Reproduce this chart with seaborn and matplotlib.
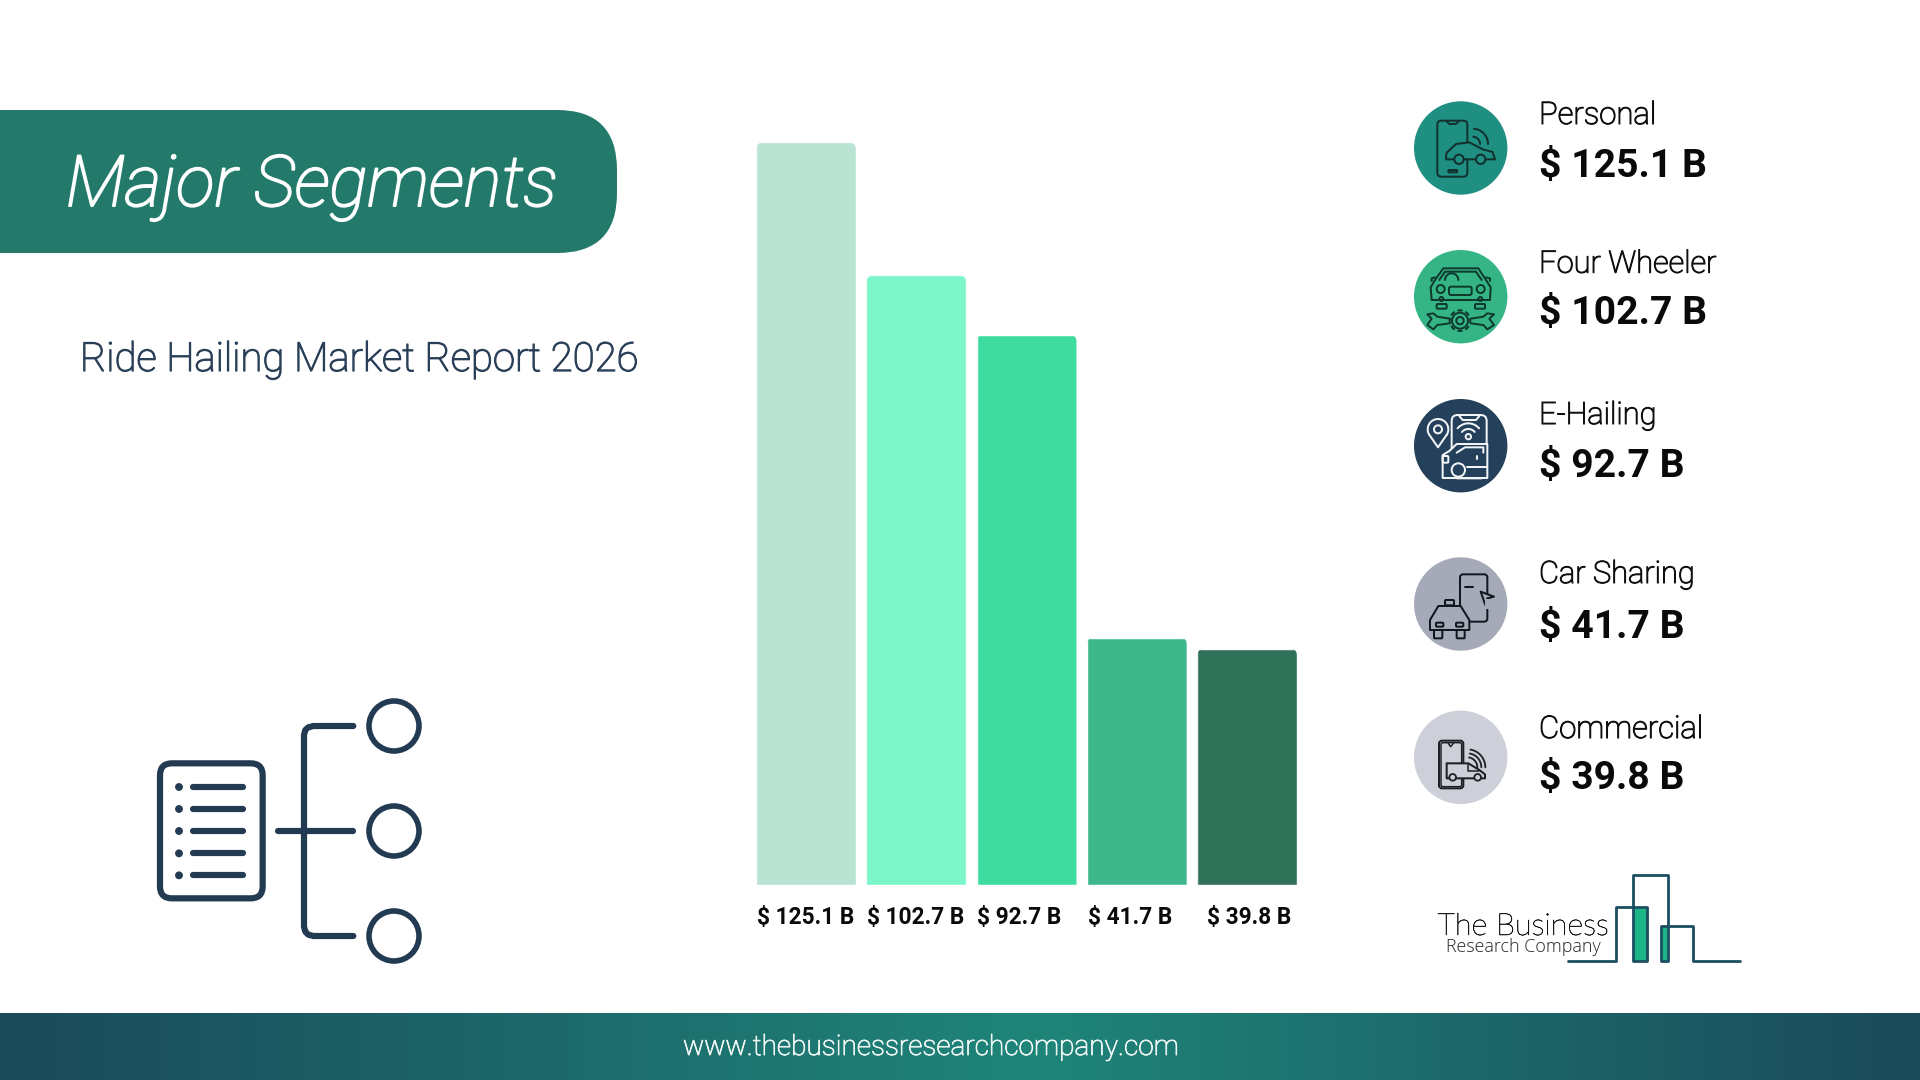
import numpy as np
import matplotlib
matplotlib.use("Agg")
import matplotlib.pyplot as plt
import matplotlib.patheffects as pe
import seaborn as sns
from matplotlib.colors import LinearSegmentedColormap
from matplotlib.patches import Circle, FancyBboxPatch, Polygon, Rectangle
from matplotlib.transforms import IdentityTransform

# Data
segments = ["Personal", "Four Wheeler", "E-Hailing", "Car Sharing", "Commercial"]
values = [125.1, 102.7, 92.7, 41.7, 39.8]
bar_colors = ["#b9e3d3", "#7bf6c9", "#3ddba0", "#3eb78c", "#2f7259"]
circle_colors = ["#1f8f82", "#35b586", "#24405a", "#a5a9b8", "#cdcfd9"]

NAVY = "#223b53"

sns.set_theme(style="white")
plt.rcParams["font.family"] = ["Roboto", "DejaVu Sans"]

W, H = 1920, 1080
fig = plt.figure(figsize=(W / 100, H / 100), dpi=100, facecolor="white")

# background axes in pixels, y pointing down
bg = fig.add_axes([0, 0, 1, 1], zorder=0)
bg.axis("off")


def px(v):
    return v * 0.72


def fit(t, width):
    # scale the font so the text is as wide as in the reference
    r = fig.canvas.get_renderer()
    t.set_fontsize(t.get_fontsize() * width / t.get_window_extent(r).width)
    return t


def thick(t, lw):
    # light weight is narrow like the reference, the stroke gives back its weight
    t.set_path_effects([pe.withStroke(linewidth=lw, foreground=t.get_color())])
    return t


# footer gradient
cmap = LinearSegmentedColormap.from_list("foot", ["#1b4a5a", "#1f8579", "#1b4a5a"])
ramp = np.linspace(0, 1, 960)[None, :]
ramp = np.where(ramp < 0.54, ramp / 0.54 * 0.5, 0.5 + (ramp - 0.54) / 0.46 * 0.5)
bg.imshow(ramp, extent=[0, W, 1080, 1013], aspect="auto", cmap=cmap, vmin=0, vmax=1, zorder=1)
bg.set_xlim(0, W)
bg.set_ylim(H, 0)
thick(fit(bg.text(683, 1055, "www.thebusinessresearchcompany.com", color="#eef6f4", weight="light",
                  va="baseline", fontsize=19, zorder=5), 496), 0.6)

# header
bg.add_patch(FancyBboxPatch((-80, 110), 697, 143, boxstyle="round,pad=0,rounding_size=60",
                            fc="#237a6b", ec="none", zorder=1))
thick(fit(bg.text(66, 206, "Major Segments", color="white", style="italic", weight="light",
                  fontsize=50, zorder=5), 492), 1.4)
thick(fit(bg.text(80, 371, "Ride Hailing Market Report 2026", color="#2a3f58", weight="light",
                  fontsize=28, zorder=5), 558), 0.9)


# icon helpers: points are given in 3x crop coordinates from an origin
def poly(org, pts, color, lw=2.0, closed=False, fill=None):
    xy = [(org[0] + x / 3, org[1] + y / 3) for x, y in pts]
    bg.add_patch(Polygon(xy, closed=closed, fill=fill is not None, fc=fill, ec=color, lw=px(lw),
                         joinstyle="round", capstyle="round", zorder=4))


def circ(org, x, y, r, color, lw=2.0, fill=None):
    bg.add_patch(Circle((org[0] + x / 3, org[1] + y / 3), r / 3, fill=fill is not None, fc=fill,
                        ec=color, lw=px(lw), zorder=4))


def rrect(org, x0, y0, x1, y1, r, color, lw=2.0, fill=None):
    bg.add_patch(FancyBboxPatch((org[0] + x0 / 3, org[1] + y0 / 3), (x1 - x0) / 3, (y1 - y0) / 3,
                                boxstyle=f"round,pad=0,rounding_size={r / 3}", fill=fill is not None,
                                fc=fill, ec=color, lw=px(lw), zorder=4))


def arc(org, x, y, r, a0, a1, color, lw=2.0):
    a = np.radians(np.linspace(a0, a1, 24))
    poly(org, np.c_[x + r * np.cos(a), y - r * np.sin(a)], color, lw)


# document + tree icon on the left
rrect((130, 680), 90, 250, 398, 655, 36, NAVY, 6.2)
for y in [321, 387, 453, 520, 586]:
    circ((130, 680), 147, y, 8, NAVY, 2.5, fill=NAVY)
    poly((130, 680), [(190, y), (340, y)], NAVY, 6.2)
poly((130, 680), [(445, 453), (670, 453)], NAVY, 6.2)
poly((130, 680), [(670, 138), (550, 138), (535, 142), (526, 150), (522, 165), (522, 740),
                  (526, 755), (535, 764), (550, 768), (670, 768)], NAVY, 6.2)
for y in [138, 453, 768]:
    circ((130, 680), 792, y, 75, NAVY, 5.6)

# circles on the right
rows_y = [148, 296.7, 445.7, 604, 757.3]
for y, c in zip(rows_y, circle_colors):
    bg.add_patch(Circle((1460.7, y), 46.7, fc=c, ec="none", zorder=2))

# Personal icon
o = (1380, 80)
ink = "#12302e"
rrect(o, 172, 122, 262, 290, 12, ink)
poly(o, [(200, 124), (208, 132), (228, 132), (236, 124)], ink)
rrect(o, 205, 270, 232, 277, 3, ink)
poly(o, [(198, 232), (200, 218), (228, 192), (268, 187), (308, 208), (338, 216), (345, 238),
         (198, 238)], ink, closed=True, fill=circle_colors[0])
circ(o, 237, 238, 14, ink, fill=circle_colors[0])
circ(o, 302, 238, 14, ink, fill=circle_colors[0])
arc(o, 278, 192, 22, 0, 85, ink)
arc(o, 278, 192, 46, 0, 85, ink)

# Four Wheeler icon
ink = "#0f3a2e"
poly(o, [(155, 660), (152, 622), (165, 600), (190, 565), (295, 565), (318, 600), (332, 622),
         (330, 660)], ink, closed=True)
poly(o, [(178, 600), (195, 575), (288, 575), (305, 600), (178, 600)], ink)
arc(o, 215, 600, 20, 0, 180, ink)
poly(o, [(165, 592), (155, 595), (155, 603)], ink)
poly(o, [(318, 592), (330, 595), (330, 603)], ink)
circ(o, 182, 627, 12, ink)
circ(o, 302, 627, 12, ink)
rrect(o, 207, 620, 275, 645, 6, ink)
circ(o, 184, 657, 6, ink)
circ(o, 301, 657, 6, ink)
poly(o, [(215, 660), (270, 660)], ink)
rrect(o, 170, 672, 200, 686, 3, ink)
rrect(o, 285, 672, 315, 686, 3, ink)
for a in range(0, 360, 45):
    arc(o, 240, 722, 31, a - 10, a + 10, ink)
circ(o, 240, 722, 24, ink)
circ(o, 240, 722, 11, ink)
poly(o, [(210, 716), (172, 710), (160, 700), (142, 703), (155, 716), (142, 735), (160, 748),
         (172, 735), (210, 730)], ink)
poly(o, [(272, 716), (310, 710), (322, 700), (342, 703), (328, 716), (342, 735), (322, 748),
         (310, 735), (272, 730)], ink)

# E-Hailing icon
e = (1400, 390)
ink = "#f2f5f6"
fill = circle_colors[2]
rrect(e, 155, 75, 260, 265, 18, ink)
poly(e, [(178, 78), (188, 90), (228, 90), (238, 78)], ink)
arc(e, 205, 142, 25, 40, 140, ink)
arc(e, 205, 142, 42, 40, 140, ink)
circ(e, 205, 140, 8, ink)
arc(e, 114, 118, 31, -35, 215, ink)
poly(e, [(89, 136), (114, 172), (139, 136)], ink)
circ(e, 114, 118, 12, ink)
poly(e, [(128, 264), (128, 195), (148, 183), (170, 162), (262, 162), (262, 264)], ink, closed=True, fill=fill)
poly(e, [(170, 188), (195, 172), (250, 172), (250, 188), (170, 188)], ink)
poly(e, [(200, 230), (262, 230)], ink)
poly(e, [(232, 198), (232, 208)], ink)
rrect(e, 128, 198, 145, 218, 3, ink)
circ(e, 175, 240, 20, ink, fill=fill)

# Car Sharing icon
o2 = (1380, 530)
ink = "#10181f"
fill = circle_colors[3]
rrect(o2, 240, 133, 322, 275, 9, ink)
poly(o2, [(255, 172), (278, 172)], ink)
poly(o2, [(302, 185), (342, 200), (322, 205), (316, 225), (302, 185)], ink, closed=True, fill=fill)
bg.add_patch(Rectangle((1380 + 315 / 3, 530 + 206 / 3), 16 / 3, 32 / 3, fc=fill, ec="none", zorder=4))
rrect(o2, 195, 210, 222, 226, 3, ink, fill=fill)
poly(o2, [(150, 300), (150, 270), (175, 228), (242, 228), (268, 270), (268, 300)], ink, closed=True, fill=fill)
rrect(o2, 168, 278, 190, 290, 3, ink)
rrect(o2, 228, 278, 250, 290, 3, ink)
rrect(o2, 162, 300, 187, 325, 3, ink, fill=fill)
rrect(o2, 230, 300, 254, 325, 3, ink, fill=fill)

# Commercial icon
ink = "#1a2026"
fill = circle_colors[4]
rrect(o2, 177, 632, 250, 775, 9, ink)
rrect(o2, 183, 638, 245, 770, 6, ink, 1.5)
poly(o2, [(205, 640), (212, 650), (220, 640)], ink, 1.5)
for r in [30, 42, 54]:
    arc(o2, 262, 712, r, 0, 80, ink, 1.8)
poly(o2, [(200, 700), (265, 700), (298, 720), (315, 733), (315, 745), (200, 745)], ink, closed=True, fill=fill)
poly(o2, [(265, 702), (265, 722), (296, 722)], ink, 1.5)
circ(o2, 218, 742, 10, ink, 1.8, fill=fill)
circ(o2, 293, 742, 10, ink, 1.8, fill=fill)

# right column text
name_y = [124, 272.7, 424, 583, 738]
value_y = [176.7, 324, 476.7, 638, 789]
name_w = [117, 177, 117, 155, 164]
for name, v, ny, vy, nw in zip(segments, values, name_y, value_y, name_w):
    thick(fit(bg.text(1539, ny, name, fontsize=22, weight="light", color="#101010", va="baseline", zorder=5), nw), 0.8)
    bg.text(1539, vy, f"$ {v} B", fontsize=28.2, weight="bold", color="#0a0a0a", va="baseline", zorder=5)

# logo
lg = (1400, 850)
bg.add_patch(Rectangle((1400 + 700 / 3, 850 + 172 / 3), 42 / 3, 160 / 3, fc="#1db586", ec="none", zorder=3))
bg.add_patch(Rectangle((1400 + 782 / 3, 850 + 228 / 3), 23 / 3, 104 / 3, fc="#1db586", ec="none", zorder=3))
poly(lg, [(505, 332), (648, 332), (648, 172), (742, 172), (742, 332), (700, 332), (700, 75),
          (805, 75), (805, 332), (782, 332), (782, 228), (878, 228), (878, 332), (1020, 332)],
     "#1d4f63", 2.8)
thick(fit(bg.text(1437.5, 935, "The Business", fontfamily=["Lato", "DejaVu Sans"], weight="light",
                  color="#151515", fontsize=20, va="baseline", zorder=5), 171), 0.4)
fit(bg.text(1446.5, 951.7, "Research Company", fontfamily=["Open Sans", "DejaVu Sans"], weight="light",
            color="#222222", fontsize=11, va="baseline", zorder=5), 155)

# bars, axes placed so that 0 sits at y=885 and 125.1 at y=142.5
ymax = 130
unit = (885 - 142.5) / 125.1
ax_h = ymax * unit
ax = fig.add_axes([751.0 / W, (H - 885) / H, 551.3 / W, ax_h / H], zorder=2)
sns.barplot(x=segments, y=values, hue=segments, palette=bar_colors, saturation=1, width=0.905,
            legend=False, ax=ax)
ax.set_ylim(0, ymax)
ax.set_xlim(-0.5, 4.5)
ax.axis("off")

for i, (bar, v) in enumerate(zip(ax.patches, values)):
    bb = bar.get_window_extent()
    clip = FancyBboxPatch((bb.x0, bb.y0 - 20), bb.width, bb.height + 20,
                          boxstyle="round,pad=0,rounding_size=7", transform=IdentityTransform())
    bar.set_clip_path(clip)
    nudge = 10 if i == 4 else 0.5
    ax.annotate(f"$ {v} B", xy=(bar.get_x(), 0), xytext=(px(nudge), px(-39)), textcoords="offset points",
                fontsize=16.3, weight="bold", color="#0a0a0a", ha="left", va="baseline", annotation_clip=False)

fig.savefig("out.png", dpi=100)
